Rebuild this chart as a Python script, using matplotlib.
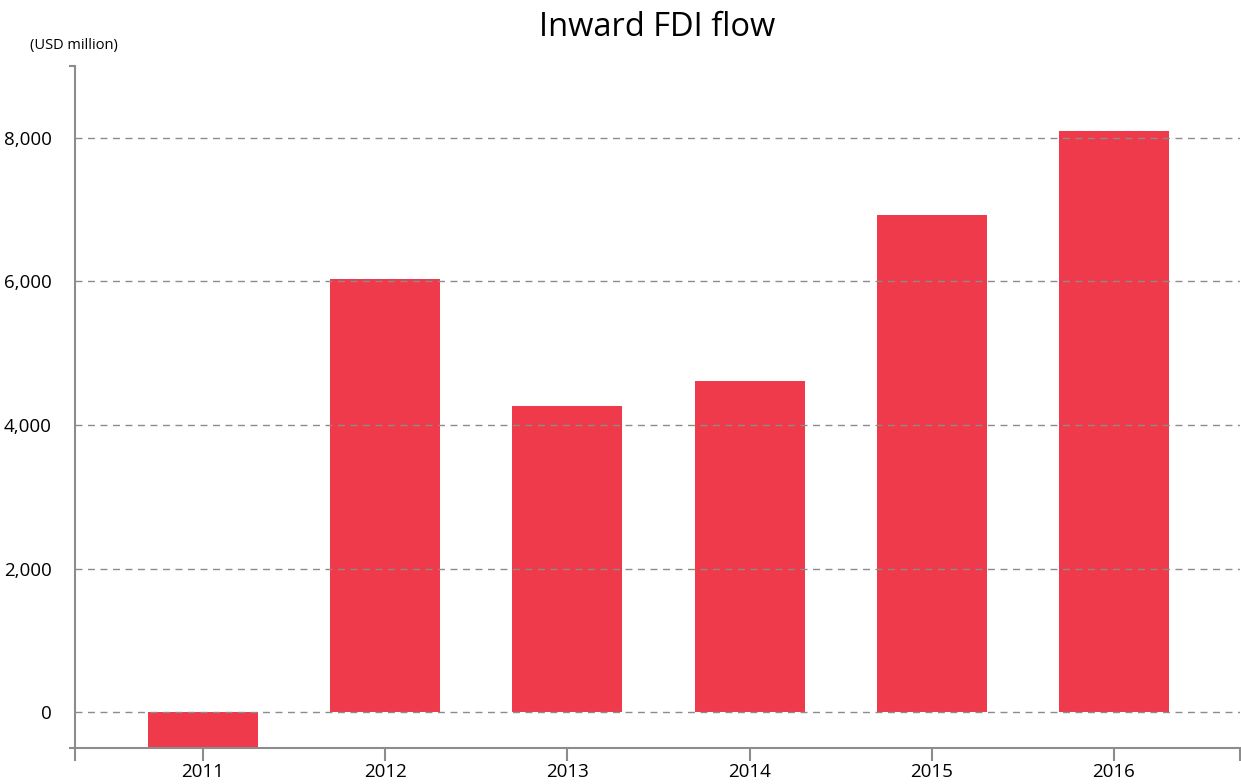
import matplotlib.pyplot as plt
import numpy as np

years = ['2011', '2012', '2013', '2014', '2015', '2016']
fdi = [-520, 6030, 4260, 4610, 6930, 8100]
yticks = [0, 2000, 4000, 6000, 8000]

plt.rcParams['font.family'] = ['Open Sans', 'DejaVu Sans']

fig = plt.figure(figsize=(12.41, 7.84), dpi=100)
ax = fig.add_axes([75 / 1241, 36 / 784, 1165 / 1241, 682 / 784])

x = np.arange(len(years))
ax.bar(x, fdi, width=0.604, color='#ee3a4a', zorder=1)

ax.set_xlim(-0.7025, 5.692)
ax.set_ylim(-500, 9000)

ax.set_xticks(x)
ax.set_xticklabels(years, fontsize=13.5)
ax.set_xticks([-0.7025, 5.692], minor=True)
ax.tick_params(axis='x', which='both', direction='out', length=9, width=1.5,
               color='#8c8c8c', pad=2)

ax.set_yticks(yticks)
ax.set_yticklabels([f'{v:,}' for v in yticks], fontsize=13.5)
ax.tick_params(axis='y', which='major', length=0, pad=17)
ax.set_yticks([-500, 9000], minor=True)
ax.tick_params(axis='y', which='minor', direction='out', length=4, width=1.5,
               color='#8c8c8c')

for v in yticks:
    ax.axhline(v, color='#8c8c8c', lw=1, ls=(0, (5, 4)), zorder=3)

for s in ['top', 'right']:
    ax.spines[s].set_visible(False)
for s in ['left', 'bottom']:
    ax.spines[s].set_color('#8c8c8c')
    ax.spines[s].set_linewidth(1.5)

fig.text(657 / 1241, 1 - 28 / 784, 'Inward FDI flow', ha='center', va='center',
         fontsize=23.5)
fig.text(30 / 1241, 1 - 45 / 784, '(USD million)', ha='left', va='center',
         fontsize=10.5)

fig.savefig('out.png', dpi=100)
